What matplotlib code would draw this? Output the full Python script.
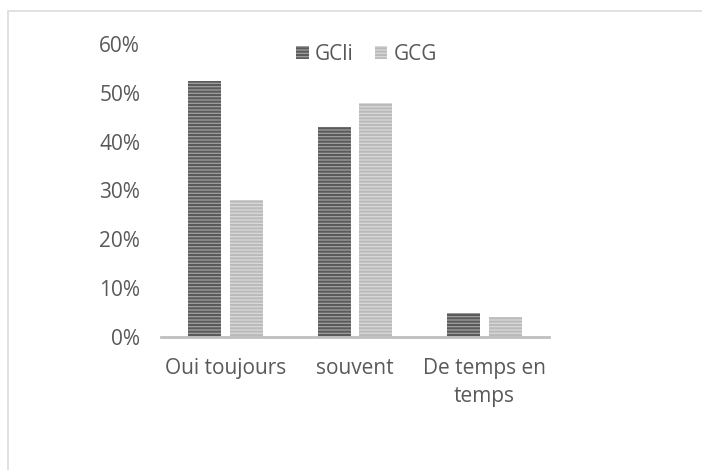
import matplotlib
matplotlib.use("Agg")
import matplotlib.pyplot as plt
import numpy as np
from matplotlib.ticker import FuncFormatter

categories = ["Oui toujours", "souvent", "De temps en\ntemps"]
series_names = ["GCli", "GCG"]
gcli = [52.5, 43, 5]
gcg = [28, 48, 4]
yticks = [0, 10, 20, 30, 40, 50, 60]

plt.rcParams['font.family'] = ['Open Sans', 'DejaVu Sans']
plt.rcParams['hatch.linewidth'] = 1.5

fig = plt.figure(figsize=(7.02, 4.70), dpi=100)
# outer frame
fig.patches.append(plt.Rectangle((8/702, -0.1), 1.1, (470-11)/470 + 0.1, transform=fig.transFigure,
                                 fill=False, edgecolor='#dcdcdc', linewidth=1.2))
ax = fig.add_axes([161/702, 1-337/470, (549-161)/702, (337-44)/470])

x = np.arange(len(categories))
w = 0.255
off = 0.16
b1 = ax.bar(x - off, gcli, w, color='#a0a0a0', linewidth=0.0,
            hatch='-----', label=series_names[0])
b2 = ax.bar(x + off, gcg, w, color='#dadada', linewidth=0.0,
            hatch='-----', label=series_names[1])
for p in b1:
    p._hatch_color = matplotlib.colors.to_rgba('#5a5a5a')
for p in b2:
    p._hatch_color = matplotlib.colors.to_rgba('#bababa')

ax.set_xlim(-0.5, 2.5)
ax.set_ylim(0, 60)
ax.set_yticks(yticks)
ax.yaxis.set_major_formatter(FuncFormatter(lambda v, p: f"{int(v)}%"))
ax.set_xticks(x)
ax.set_xticklabels(categories, linespacing=1.45)
for s in ['top', 'right', 'left']:
    ax.spines[s].set_visible(False)
ax.spines['bottom'].set_color('#bfbfbf')
ax.spines['bottom'].set_linewidth(2)
ax.tick_params(axis='both', length=0, colors='#595959', labelsize=15)
ax.tick_params(axis='y', pad=15)
ax.tick_params(axis='x', pad=15)

leg = ax.legend(loc='upper center', bbox_to_anchor=(0.53, 1.065), ncol=2, frameon=False,
                fontsize=15, handlelength=0.6, handleheight=0.6, handletextpad=0.3,
                columnspacing=1.0, labelcolor='#595959')

fig.savefig("out.png", dpi=100)
